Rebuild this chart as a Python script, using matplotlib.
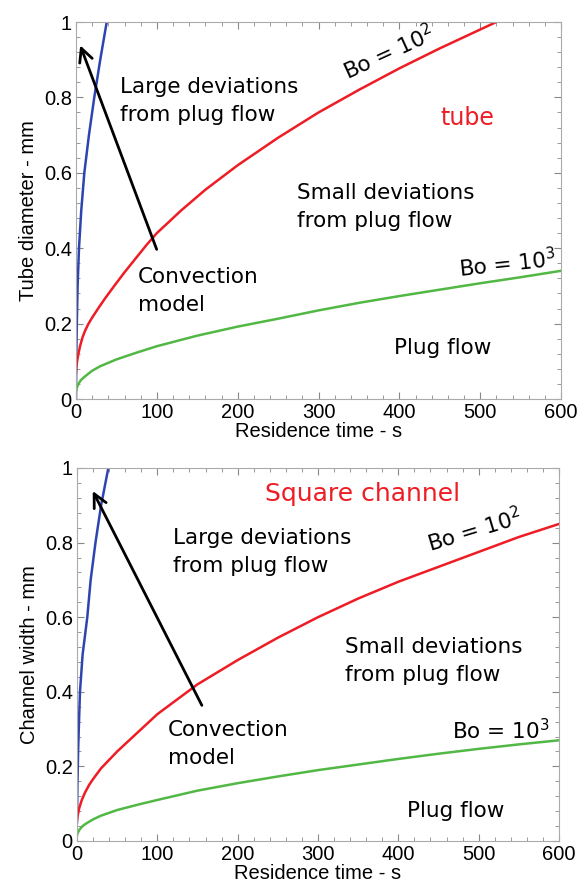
import matplotlib
matplotlib.use("Agg")
import matplotlib.pyplot as plt
from matplotlib.ticker import MultipleLocator, FormatStrFormatter

# values (residence time s, size mm)
tube_blue_t = [0, 0.3, 1, 2, 3.7, 6.5, 10.3, 16, 22.6, 30, 38]
tube_blue_d = [0, 0.1, 0.2, 0.3, 0.4, 0.5, 0.6, 0.7, 0.8, 0.9, 1.0]
tube_red_t = [0, 0.5, 1.5, 3, 5, 8, 11, 15, 20, 28, 36, 48, 60, 75, 87, 100, 130, 160, 200, 250,
              300, 350, 400, 450, 520]
tube_red_d = [0.07, 0.085, 0.102, 0.12, 0.14, 0.163, 0.18, 0.198, 0.216, 0.242, 0.267, 0.302, 0.336,
              0.376, 0.408, 0.44, 0.50, 0.555, 0.62, 0.693, 0.76, 0.82, 0.877, 0.93, 1.0]
tube_green_t = [0, 1, 3, 6, 10, 20, 30, 50, 75, 100, 150, 200, 250, 300, 350, 400, 450, 500, 550, 600]
tube_green_d = [0.02, 0.03, 0.04, 0.05, 0.058, 0.075, 0.087, 0.105, 0.123, 0.14, 0.168, 0.192, 0.213,
                0.235, 0.255, 0.273, 0.29, 0.307, 0.323, 0.34]

sq_blue_t = [0, 0.5, 1.5, 2.5, 3.7, 7, 12.8, 17, 23, 30, 39]
sq_blue_d = [0.05, 0.15, 0.25, 0.32, 0.4, 0.5, 0.6, 0.7, 0.8, 0.9, 1.0]
sq_red_t = [0, 1, 3, 6, 10, 15, 20, 30, 50, 75, 100, 150, 200, 250, 300, 350, 400, 450, 500, 550, 600]
sq_red_d = [0.056, 0.07, 0.09, 0.11, 0.13, 0.15, 0.166, 0.195, 0.24, 0.29, 0.34, 0.42, 0.485, 0.545,
            0.60, 0.65, 0.695, 0.735, 0.775, 0.815, 0.85]
sq_green_t = [0, 1, 3, 6, 10, 20, 30, 50, 75, 100, 150, 200, 250, 300, 350, 400, 450, 500, 550, 600]
sq_green_d = [0.015, 0.022, 0.03, 0.038, 0.045, 0.058, 0.068, 0.083, 0.097, 0.11, 0.135, 0.155, 0.173,
              0.19, 0.205, 0.22, 0.234, 0.247, 0.259, 0.27]

BLUE = "#2e44b0"
RED = "#ee1c24"
GREEN = "#52b845"
LABFONT = ["Liberation Sans", "DejaVu Sans"]
TXT = 15.5
LS = 1.5

fig = plt.figure(figsize=(5.78, 8.9), dpi=100)
ax1 = fig.add_axes([76/578, 1-399/890, 485/578, 377/890])
ax2 = fig.add_axes([77/578, 1-841/890, 482/578, 373/890])


def style(ax, ylabel):
    ax.set_xlim(0, 600)
    ax.set_ylim(0, 1)
    ax.xaxis.set_major_locator(MultipleLocator(100))
    ax.xaxis.set_minor_locator(MultipleLocator(20))
    ax.yaxis.set_major_locator(MultipleLocator(0.2))
    ax.yaxis.set_minor_locator(MultipleLocator(0.04))
    ax.yaxis.set_major_formatter(FormatStrFormatter("%g"))
    ax.tick_params(which="both", direction="in", top=True, right=True,
                   color="#888888", labelsize=14.5, pad=3)
    ax.tick_params(which="major", length=5)
    ax.tick_params(which="minor", length=3)
    for lab in ax.get_xticklabels() + ax.get_yticklabels():
        lab.set_family(LABFONT)
    for s in ax.spines.values():
        s.set_color("#aaaaaa")
    ax.set_xlabel("Residence time - s", family=LABFONT, fontsize=14.5, labelpad=0)
    ax.set_ylabel(ylabel, family=LABFONT, fontsize=14.5, labelpad=4)


# top: tube
ax1.plot(tube_blue_t, tube_blue_d, color=BLUE, lw=1.8)
ax1.plot(tube_red_t, tube_red_d, color=RED, lw=1.8)
ax1.plot(tube_green_t, tube_green_d, color=GREEN, lw=1.8)
style(ax1, "Tube diameter - mm")
ax1.annotate("", xy=(4, 0.945), xytext=(101, 0.39),
             arrowprops=dict(arrowstyle="->", lw=2, color="black", mutation_scale=24))
ax1.text(54, 0.79, "Large deviations\nfrom plug flow", fontsize=TXT, va="center", linespacing=LS)
ax1.text(273, 0.51, "Small deviations\nfrom plug flow", fontsize=TXT, va="center", linespacing=LS)
ax1.text(77, 0.287, "Convection\nmodel", fontsize=TXT, va="center", linespacing=LS)
ax1.text(454, 0.135, "Plug flow", fontsize=TXT, ha="center", va="center")
ax1.text(484, 0.745, "tube", fontsize=17, color=RED, ha="center", va="center")
ax1.text(387, 0.92, "Bo = 10$^2$", fontsize=TXT, ha="center", va="center", rotation=24.5)
ax1.text(534, 0.36, "Bo = 10$^3$", fontsize=TXT, ha="center", va="center", rotation=6)

# bottom: square channel
ax2.plot(sq_blue_t, sq_blue_d, color=BLUE, lw=1.8)
ax2.plot(sq_red_t, sq_red_d, color=RED, lw=1.8)
ax2.plot(sq_green_t, sq_green_d, color=GREEN, lw=1.8)
style(ax2, "Channel width - mm")
ax2.annotate("", xy=(18, 0.945), xytext=(157, 0.357),
             arrowprops=dict(arrowstyle="->", lw=2, color="black", mutation_scale=24))
ax2.text(120, 0.775, "Large deviations\nfrom plug flow", fontsize=TXT, va="center", linespacing=LS)
ax2.text(334, 0.483, "Small deviations\nfrom plug flow", fontsize=TXT, va="center", linespacing=LS)
ax2.text(113, 0.26, "Convection\nmodel", fontsize=TXT, va="center", linespacing=LS)
ax2.text(471, 0.08, "Plug flow", fontsize=TXT, ha="center", va="center")
ax2.text(356, 0.93, "Square channel", fontsize=18, color=RED, ha="center", va="center")
ax2.text(495, 0.834, "Bo = 10$^2$", fontsize=TXT, ha="center", va="center", rotation=16.7)
ax2.text(527, 0.295, "Bo = 10$^3$", fontsize=TXT, ha="center", va="center")

fig.savefig("out.png", dpi=100)
